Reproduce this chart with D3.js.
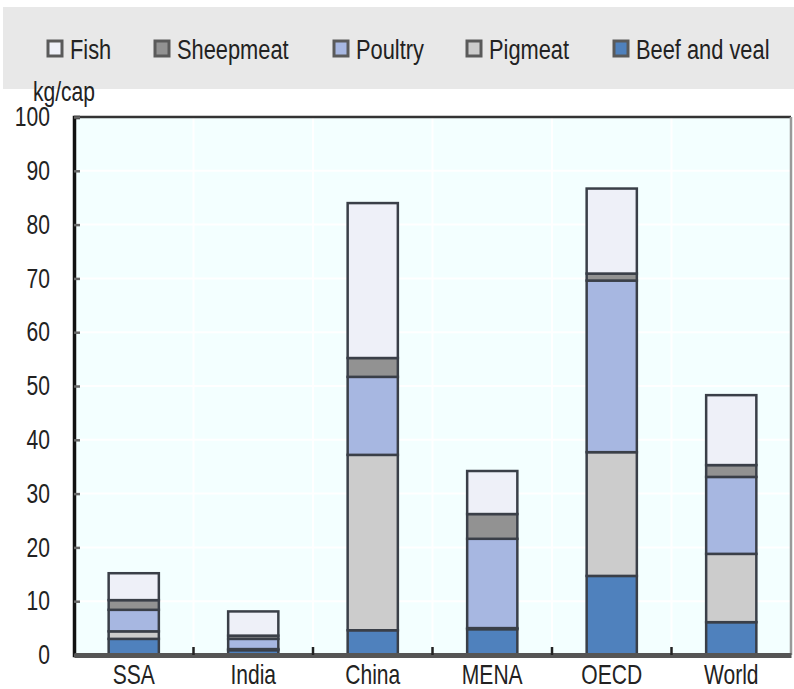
<!DOCTYPE html>
<html>
<head>
<meta charset="utf-8">
<script src="https://cdn.jsdelivr.net/npm/d3@7"></script>
<style>
  body { margin: 0; background: #fff; }
  text { font-family: "Liberation Sans", Arial, sans-serif; fill: #222; }
</style>
</head>
<body>
<div id="chart"></div>
<script>
// data, kg per capita
const regions = ["SSA", "India", "China", "MENA", "OECD", "World"];
const seriesNames = ["Beef and veal", "Pigmeat", "Poultry", "Sheepmeat", "Fish"];
const beef    = [3.0, 0.9, 4.6, 4.8, 14.7, 6.1];
const pigmeat = [1.4, 0.2, 32.6, 0.2, 23.0, 12.7];
const poultry = [4.0, 1.9, 14.5, 16.6, 31.9, 14.3];
const sheep   = [1.8, 0.6, 3.5, 4.6, 1.3, 2.2];
const fish    = [5.0, 4.5, 28.8, 8.0, 15.8, 13.0];
const yTicks = [0, 10, 20, 30, 40, 50, 60, 70, 80, 90, 100];
const legendOrder = ["Fish", "Sheepmeat", "Poultry", "Pigmeat", "Beef and veal"];

const colors = {
  "Beef and veal": "#4f81bd",
  "Pigmeat": "#cccccc",
  "Poultry": "#a7b7e1",
  "Sheepmeat": "#929292",
  "Fish": "#eef0f8"
};

const width = 794, height = 689;
const margin = {left: 74, right: 3, top: 117, bottom: 34};
const squeeze = 0.78;  // the original uses a narrow face

// no narrow font here, so squash the glyphs around their x anchor
function narrow(sel) {
  sel.each(function () {
    let x0 = +d3.select(this).attr("x") || 0;
    d3.select(this)
      .attr("transform", "translate(" + (x0 * (1 - squeeze)) + ",0) scale(" + squeeze + ",1)");
  });
}

const svg = d3.select("#chart").append("svg")
  .attr("width", width)
  .attr("height", height);

// legend band
svg.append("rect")
  .attr("x", 3).attr("y", 7)
  .attr("width", 791).attr("height", 82)
  .attr("fill", "#e8e8e8");

const legendX = [48, 155, 334, 467, 614];
legendOrder.forEach((name, i) => {
  let g = svg.append("g").attr("transform", "translate(" + legendX[i] + ",49)");
  g.append("rect")
    .attr("x", 0).attr("y", -8)
    .attr("width", 14).attr("height", 15)
    .attr("fill", colors[name])
    .attr("stroke", "#5a5a5a")
    .attr("stroke-width", 3);
  g.append("text")
    .attr("x", 22).attr("y", 10)
    .attr("font-size", 28)
    .text(name)
    .call(narrow);
});

const x = d3.scaleBand()
  .domain(regions)
  .range([margin.left, width - margin.right])
  .paddingInner(0.58)
  .paddingOuter(0.29);

const y = d3.scaleLinear()
  .domain([0, 100])
  .range([height - margin.bottom, margin.top]);

// plot background
svg.append("rect")
  .attr("x", margin.left).attr("y", margin.top)
  .attr("width", width - margin.right - margin.left)
  .attr("height", y(0) - y(100))
  .attr("fill", "#f3ffff");

// white grid
svg.append("g")
  .selectAll("line")
  .data(yTicks.slice(1, -1))
  .enter().append("line")
  .attr("x1", margin.left).attr("x2", width - margin.right)
  .attr("y1", d => y(d)).attr("y2", d => y(d))
  .attr("stroke", "#fff").attr("stroke-width", 2);

const step = x.step();
const bounds = regions.slice(1).map(r => x(r) - (step - x.bandwidth()) / 2);
svg.append("g")
  .selectAll("line")
  .data(bounds)
  .enter().append("line")
  .attr("x1", d => d).attr("x2", d => d)
  .attr("y1", margin.top).attr("y2", y(0))
  .attr("stroke", "#fff").attr("stroke-width", 2);

// stacked bars
const table = regions.map((r, i) => ({
  region: r,
  "Beef and veal": beef[i],
  "Pigmeat": pigmeat[i],
  "Poultry": poultry[i],
  "Sheepmeat": sheep[i],
  "Fish": fish[i]
}));

const stacked = d3.stack().keys(seriesNames)(table);

svg.append("g")
  .selectAll("g")
  .data(stacked)
  .enter().append("g")
  .attr("fill", d => colors[d.key])
  .selectAll("rect")
  .data(d => d)
  .enter().append("rect")
  .attr("x", d => x(d.data.region))
  .attr("width", x.bandwidth())
  .attr("y", d => y(d[1]))
  .attr("height", d => y(d[0]) - y(d[1]))
  .attr("stroke", "#3a3f48")
  .attr("stroke-width", 2.5);

// frame
svg.append("line")
  .attr("x1", margin.left).attr("x2", width - margin.right)
  .attr("y1", margin.top).attr("y2", margin.top)
  .attr("stroke", "#333").attr("stroke-width", 2.5);
svg.append("line")
  .attr("x1", width - margin.right).attr("x2", width - margin.right)
  .attr("y1", margin.top).attr("y2", y(0))
  .attr("stroke", "#999").attr("stroke-width", 2.5);

// y axis
const yAxis = d3.axisLeft(y)
  .tickValues(yTicks)
  .tickSize(-6)
  .tickPadding(24);

const ya = svg.append("g")
  .attr("transform", "translate(" + margin.left + ",0)")
  .call(yAxis);
ya.select(".domain").attr("stroke", "#111").attr("stroke-width", 3.5);
ya.selectAll(".tick line").attr("stroke", "#666").attr("stroke-width", 2.5);
ya.selectAll(".tick text")
  .attr("font-size", 27)
  .attr("font-family", "Liberation Sans, Arial, sans-serif")
  .attr("fill", "#222")
  .call(narrow);

// x axis
const xa = svg.append("g")
  .attr("transform", "translate(0," + y(0) + ")")
  .call(d3.axisBottom(x).tickSize(0).tickPadding(9));
xa.select(".domain").attr("stroke", "#555").attr("stroke-width", 5);
xa.selectAll(".tick text")
  .attr("font-size", 27)
  .attr("dy", "0.75em")
  .attr("font-family", "Liberation Sans, Arial, sans-serif")
  .attr("fill", "#222")
  .call(narrow);

svg.append("g")
  .selectAll("line")
  .data(bounds)
  .enter().append("line")
  .attr("x1", d => d).attr("x2", d => d)
  .attr("y1", y(0) - 8).attr("y2", y(0))
  .attr("stroke", "#222").attr("stroke-width", 2.5);

// unit label
svg.append("text")
  .attr("x", 33).attr("y", 101)
  .attr("font-size", 27)
  .text("kg/cap")
  .call(narrow);
</script>
</body>
</html>
